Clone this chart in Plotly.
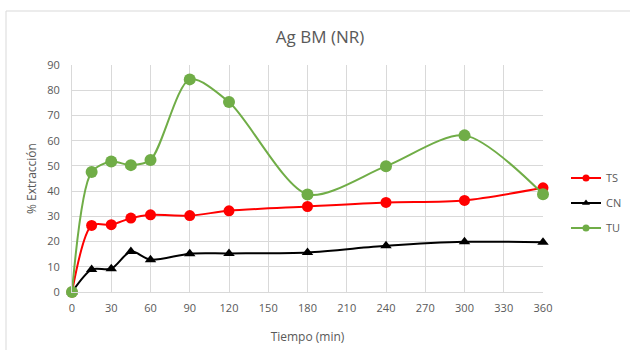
import plotly.graph_objects as go

tiempo = [0, 15, 30, 45, 60, 90, 120, 180, 240, 300, 360]
ts = [0, 26.4, 26.7, 29.3, 30.6, 30.3, 32.2, 33.9, 35.5, 36.3, 41.3]
cn = [0, 8.9, 9.2, 16.1, 12.8, 15.2, 15.3, 15.7, 18.3, 19.9, 19.7]
tu = [0, 47.6, 51.7, 50.3, 52.3, 84.3, 75.3, 38.7, 49.9, 62.1, 38.8]
x_ticks = list(range(0, 361, 30))
y_ticks = list(range(0, 91, 10))

FONT = "Open Sans, Liberation Sans, sans-serif"
GRAY = "#595959"

series = [
    ("TS", ts, "#ff0000", "circle", 11),
    ("CN", cn, "#000000", "triangle-up", 10),
    ("TU", tu, "#70ad47", "circle", 12),
]

fig = go.Figure()
for name, vals, color, sym, size in series:
    fig.add_trace(go.Scatter(x=tiempo, y=vals, name=name, mode="lines+markers",
                             legendgroup=name, showlegend=False, cliponaxis=False,
                             line=dict(color=color, width=2, shape="spline", smoothing=0.8),
                             marker=dict(symbol=sym, size=size, color=color)))
# legend entries (smaller symbols, as in the reference legend)
for name, vals, color, sym, size in series:
    fig.add_trace(go.Scatter(x=[None], y=[None], name=name, mode="lines+markers",
                             legendgroup=name, showlegend=True,
                             line=dict(color=color, width=2),
                             marker=dict(symbol=sym, size=7, color=color)))

fig.update_layout(
    width=630, height=350,
    margin=dict(l=72, r=87, t=65, b=58, autoexpand=False),
    paper_bgcolor="white", plot_bgcolor="white",
    font=dict(family=FONT, size=11, color=GRAY),
    title=dict(text="Ag BM (NR)", x=(320 - 72) / 471, xanchor="center", xref="paper",
               y=1 - 37 / 350, yanchor="middle",
               font=dict(family=FONT, size=17, color=GRAY)),
    showlegend=True,
    legend=dict(x=(566 - 72) / 471, y=0.392, xanchor="left", yanchor="middle",
                font=dict(family=FONT, size=11, color=GRAY),
                bgcolor="rgba(0,0,0,0)", itemwidth=30, tracegroupgap=6),
    xaxis=dict(range=[0, 360], tickvals=x_ticks, ticktext=[str(v) for v in x_ticks],
               showgrid=True, gridcolor="#d9d9d9", gridwidth=1,
               showline=True, linecolor="#d9d9d9", zeroline=False,
               ticks="outside", ticklen=6, tickcolor="rgba(0,0,0,0)",
               title=dict(text="Tiempo (min)", standoff=18,
                          font=dict(family=FONT, size=12, color=GRAY))),
    yaxis=dict(range=[0, 90], tickvals=y_ticks, ticktext=[str(v) for v in y_ticks],
               showgrid=True, gridcolor="#d9d9d9", gridwidth=1,
               showline=True, linecolor="#d9d9d9", zeroline=False,
               ticks="outside", ticklen=9, tickcolor="rgba(0,0,0,0)",
               title=dict(text="% Extracción", standoff=8,
                          font=dict(family=FONT, size=12, color=GRAY))),
)

fig.add_shape(type="rect", xref="paper", yref="paper",
              x0=(6 - 72) / 471, x1=(660 - 72) / 471,
              y0=(292 - 380) / 227, y1=(292 - 11) / 227,
              line=dict(color="#d9d9d9", width=1), fillcolor="rgba(0,0,0,0)", layer="below")

fig.write_html("out.html")
